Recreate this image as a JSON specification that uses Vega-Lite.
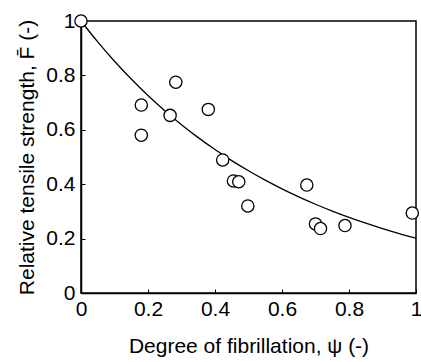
{
  "$schema": "https://vega.github.io/schema/vega-lite/v6.json",
  "width": 335,
  "height": 272,
  "autosize": "none",
  "padding": {"left": 81, "top": 21, "right": 5, "bottom": 69},
  "background": "white",
  "config": {
    "font": "Liberation Sans",
    "view": {"stroke": "black", "strokeWidth": 1.5},
    "axis": {
      "grid": false,
      "domainColor": "black",
      "domainWidth": 1.5,
      "tickColor": "black",
      "tickWidth": 1,
      "tickSize": -4,
      "labelColor": "black",
      "titleColor": "black",
      "labelFontSize": 21,
      "titleFontSize": 21,
      "titleFontWeight": "normal",
      "labelFont": "Liberation Sans",
      "titleFont": "Liberation Sans",
      "labelFlush": false,
      "labelOverlap": false
    }
  },
  "datasets": {
    "pts": [
      {"psi": 0.0, "F": 1.0},
      {"psi": 0.18, "F": 0.691},
      {"psi": 0.18, "F": 0.58},
      {"psi": 0.266, "F": 0.653},
      {"psi": 0.283, "F": 0.775},
      {"psi": 0.38, "F": 0.675},
      {"psi": 0.423, "F": 0.489},
      {"psi": 0.455, "F": 0.412},
      {"psi": 0.471, "F": 0.409},
      {"psi": 0.498, "F": 0.32},
      {"psi": 0.674, "F": 0.397},
      {"psi": 0.7, "F": 0.254},
      {"psi": 0.715, "F": 0.237},
      {"psi": 0.788, "F": 0.248},
      {"psi": 0.989, "F": 0.294}
    ],
    "fit": [
      {"psi": 0.0, "F": 1.0},
      {"psi": 0.05, "F": 0.9231},
      {"psi": 0.1, "F": 0.8521},
      {"psi": 0.15, "F": 0.7866},
      {"psi": 0.2, "F": 0.7261},
      {"psi": 0.25, "F": 0.6703},
      {"psi": 0.3, "F": 0.6188},
      {"psi": 0.35, "F": 0.5712},
      {"psi": 0.4, "F": 0.5273},
      {"psi": 0.45, "F": 0.4868},
      {"psi": 0.5, "F": 0.4493},
      {"psi": 0.55, "F": 0.4148},
      {"psi": 0.6, "F": 0.3829},
      {"psi": 0.65, "F": 0.3535},
      {"psi": 0.7, "F": 0.3263},
      {"psi": 0.75, "F": 0.3012},
      {"psi": 0.8, "F": 0.278},
      {"psi": 0.85, "F": 0.2567},
      {"psi": 0.9, "F": 0.2369},
      {"psi": 0.95, "F": 0.2187},
      {"psi": 1.0, "F": 0.2019}
    ]
  },
  "layer": [
    {
      "data": {"name": "fit"},
      "mark": {"type": "line", "color": "black", "strokeWidth": 1.3, "interpolate": "monotone"},
      "encoding": {
        "x": {
          "field": "psi", "type": "quantitative",
          "scale": {"domain": [0, 1], "nice": false, "zero": false},
          "axis": {
            "title": "Degree of fibrillation,  ψ (-)",
            "values": [0, 0.1, 0.2, 0.3, 0.4, 0.5, 0.6, 0.7, 0.8, 0.9, 1],
            "format": ".1~f",
            "labelExpr": "round(datum.value * 10) % 2 == 0 ? datum.label : ''",
            "labelPadding": 9,
            "titlePadding": 16
          }
        },
        "y": {
          "field": "F", "type": "quantitative",
          "scale": {"domain": [0, 1], "nice": false, "zero": false},
          "axis": {
            "title": "Relative tensile strength, F̄ (-)",
            "values": [0, 0.1, 0.2, 0.3, 0.4, 0.5, 0.6, 0.7, 0.8, 0.9, 1],
            "format": ".1~f",
            "labelExpr": "round(datum.value * 10) % 2 == 0 ? datum.label : ''",
            "labelPadding": 10,
            "titlePadding": 8
          }
        }
      }
    },
    {
      "data": {"name": "pts"},
      "mark": {"type": "point", "shape": "circle", "size": 150, "fill": "white", "stroke": "black", "strokeWidth": 1.3, "opacity": 1, "filled": true},
      "encoding": {
        "x": {"field": "psi", "type": "quantitative"},
        "y": {"field": "F", "type": "quantitative"}
      }
    }
  ]
}
